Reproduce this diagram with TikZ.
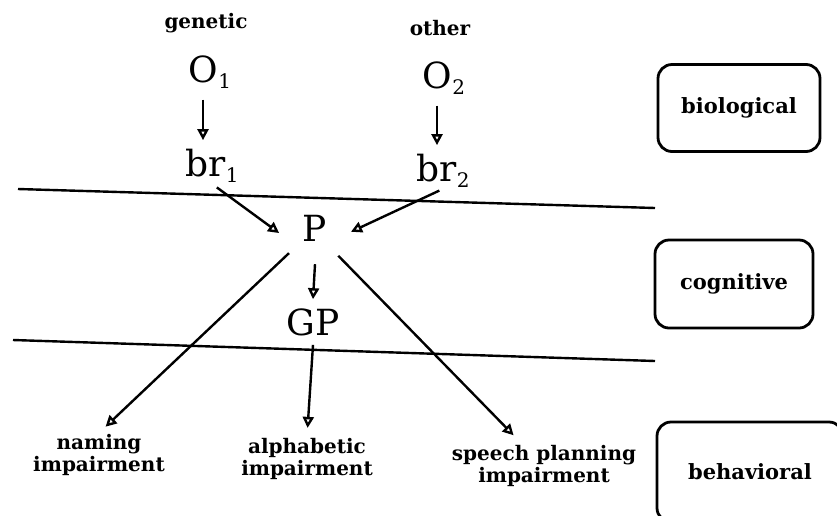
\documentclass[tikz,border=0pt]{standalone}
\usepackage{fontspec}
\setmainfont{DejaVu Serif}
\usetikzlibrary{arrows.meta}
\newcommand{\lowidx}[1]{\raisebox{-6pt}{\fontsize{20}{20}\selectfont #1}}

\begin{document}
\begin{tikzpicture}[x=1pt, y=-1pt, >={Triangle[open,length=11pt,width=11pt]}, line width=2.4pt,
		cause/.style={font=\bfseries\fontsize{20}{22}\selectfont, inner sep=0pt},
		term/.style={font=\fontsize{36}{38}\selectfont, inner sep=0pt},
		deficit/.style={font=\bfseries\fontsize{20}{22.5}\selectfont, align=center, inner sep=0pt},
		level/.style={draw, line width=2.8pt, rounded corners=14pt, font=\bfseries\fontsize{21}{23}\selectfont}]
	\useasboundingbox (0,0) rectangle (837,515);
	
	% 1. 层间分隔线
	\draw (18,189) -- (655,208);
	\draw (13,340) -- (655,361);
	
	% 2. 生物层: 病因与脑结构
	\node[cause] (genetic) at (206,23) {genetic};
	\node[cause] (other) at (440,28) {other};
	\node[term] (O1) at (210,72) {O\lowidx{1}};
	\node[term] (O2) at (444,78) {O\lowidx{2}};
	\node[term] (br1) at (212,166) {br\lowidx{1}};
	\node[term] (br2) at (443,171) {br\lowidx{2}};
	\draw[->, shorten <=10pt, shorten >=8pt] ([xshift=-7pt]O1.south) -- ([xshift=-7pt]O1.south |- br1.north);
	\draw[->, shorten <=10pt, shorten >=8pt] ([xshift=-7pt]O2.south) -- ([xshift=-7pt]O2.south |- br2.north);
	
	% 3. 认知层
	\node[term, circle, minimum size=70pt] (P) at (315,228) {P};
	\node[term, inner sep=8pt] (GP) at (313,322) {GP};
	\draw[->, shorten <=6pt] (br1.south) -- (P.188);
	\draw[->, shorten <=4pt] (br2.south) -- (P.-6);
	\draw[->] (P.south) -- (GP.north);
	
	% 4. 行为层: 三种障碍
	\node[deficit] (naming) at (99,455) {naming\\impairment};
	\node[deficit] (alpha) at (307,459) {alphabetic\\impairment};
	\node[deficit] (speech) at (544,466) {speech planning\\impairment};
	\draw[->, shorten >=9pt] (P.224) -- (naming.north);
	\draw[->, shorten >=9pt] (GP.south) -- (alpha.north);
	\draw[->, shorten >=12pt] (P.310) -- ([xshift=-22pt]speech.north);
	
	% 5. 右侧层次标签
	\node[level, minimum width=162pt, minimum height=87pt] (bio) at (739,108) {biological};
	\node[level, minimum width=158pt, minimum height=88pt] (cog) at (734,284) {cognitive};
	\node[level, minimum width=186pt, minimum height=100pt] (beh) at (750,472) {behavioral};
\end{tikzpicture}
\end{document}
